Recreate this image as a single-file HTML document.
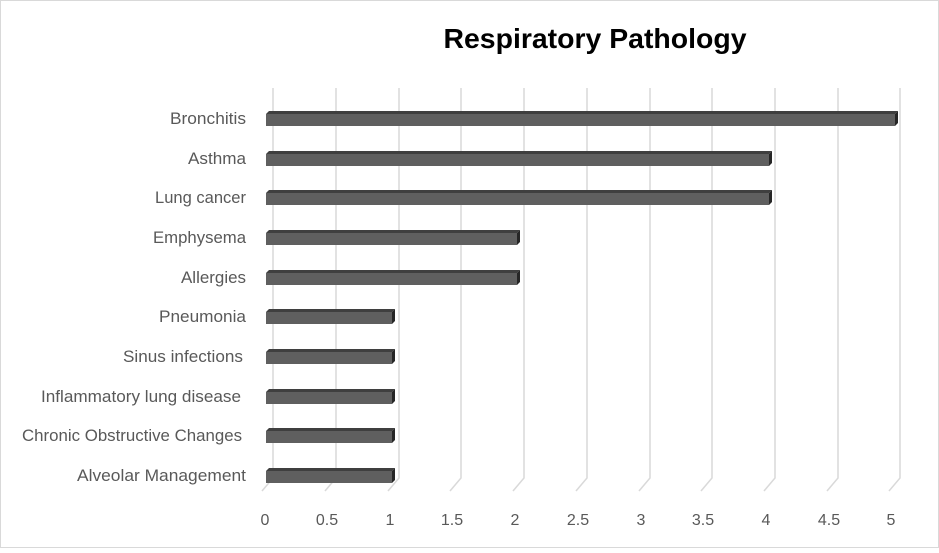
<!DOCTYPE html>
<html><head><meta charset="utf-8"><style>
body{margin:0;background:#fff}
svg text{font-family:"Liberation Sans",sans-serif}
</style></head><body>
<svg width="939" height="548" viewBox="0 0 939 548" xmlns="http://www.w3.org/2000/svg">
<rect x="0.5" y="0.5" width="938" height="547" fill="#fff" stroke="#d9d9d9"/>
<text x="595" y="48" text-anchor="middle" font-size="28" font-weight="bold" fill="#000" textLength="303" lengthAdjust="spacingAndGlyphs">Respiratory Pathology</text>
<g stroke="#d9d9d9" stroke-width="1.5" fill="none">
<path d="M273,88V478L262,491"/><path d="M336,88V478L325,491"/><path d="M399,88V478L388,491"/>
<path d="M461,88V478L450,491"/><path d="M524,88V478L513,491"/><path d="M587,88V478L576,491"/>
<path d="M650,88V478L639,491"/><path d="M712,88V478L701,491"/><path d="M775,88V478L764,491"/>
<path d="M838,88V478L827,491"/><path d="M900,88V478L889,491"/>
</g>
<g font-size="16" fill="#595959" text-anchor="middle">
<text x="265" y="525">0</text><text x="327" y="525">0.5</text><text x="390" y="525">1</text>
<text x="452" y="525">1.5</text><text x="515" y="525">2</text><text x="578" y="525">2.5</text>
<text x="641" y="525">3</text><text x="703" y="525">3.5</text><text x="766" y="525">4</text>
<text x="829" y="525">4.5</text><text x="891" y="525">5</text>
</g>
<g font-size="16.5" fill="#595959" lengthAdjust="spacingAndGlyphs">
<text x="170" y="124" textLength="76" lengthAdjust="spacingAndGlyphs">Bronchitis</text>
<text x="188" y="164" textLength="58" lengthAdjust="spacingAndGlyphs">Asthma</text>
<text x="155" y="203" textLength="91" lengthAdjust="spacingAndGlyphs">Lung cancer</text>
<text x="153" y="243" textLength="93" lengthAdjust="spacingAndGlyphs">Emphysema</text>
<text x="181" y="283" textLength="65" lengthAdjust="spacingAndGlyphs">Allergies</text>
<text x="159" y="322" textLength="87" lengthAdjust="spacingAndGlyphs">Pneumonia</text>
<text x="123" y="362" textLength="120" lengthAdjust="spacingAndGlyphs">Sinus infections</text>
<text x="41" y="402" textLength="200" lengthAdjust="spacingAndGlyphs">Inflammatory lung disease</text>
<text x="22" y="441" textLength="220" lengthAdjust="spacingAndGlyphs">Chronic Obstructive Changes</text>
<text x="77" y="481" textLength="169" lengthAdjust="spacingAndGlyphs">Alveolar Management</text>
</g>
<g>
<g transform="translate(0,111)"><path d="M266,3L269,0H898L895,3Z" fill="#3f3f3f"/><path d="M895,3L898,0V12L895,15Z" fill="#262626"/><rect x="266" y="3" width="629" height="12" fill="#5f5f5f"/></g>
<g transform="translate(0,151)"><path d="M266,3L269,0H772L769,3Z" fill="#3f3f3f"/><path d="M769,3L772,0V12L769,15Z" fill="#262626"/><rect x="266" y="3" width="503" height="12" fill="#5f5f5f"/></g>
<g transform="translate(0,190)"><path d="M266,3L269,0H772L769,3Z" fill="#3f3f3f"/><path d="M769,3L772,0V12L769,15Z" fill="#262626"/><rect x="266" y="3" width="503" height="12" fill="#5f5f5f"/></g>
<g transform="translate(0,230)"><path d="M266,3L269,0H520L517,3Z" fill="#3f3f3f"/><path d="M517,3L520,0V12L517,15Z" fill="#262626"/><rect x="266" y="3" width="251" height="12" fill="#5f5f5f"/></g>
<g transform="translate(0,270)"><path d="M266,3L269,0H520L517,3Z" fill="#3f3f3f"/><path d="M517,3L520,0V12L517,15Z" fill="#262626"/><rect x="266" y="3" width="251" height="12" fill="#5f5f5f"/></g>
<g transform="translate(0,309)"><path d="M266,3L269,0H395L392,3Z" fill="#3f3f3f"/><path d="M392,3L395,0V12L392,15Z" fill="#262626"/><rect x="266" y="3" width="126" height="12" fill="#5f5f5f"/></g>
<g transform="translate(0,349)"><path d="M266,3L269,0H395L392,3Z" fill="#3f3f3f"/><path d="M392,3L395,0V12L392,15Z" fill="#262626"/><rect x="266" y="3" width="126" height="12" fill="#5f5f5f"/></g>
<g transform="translate(0,389)"><path d="M266,3L269,0H395L392,3Z" fill="#3f3f3f"/><path d="M392,3L395,0V12L392,15Z" fill="#262626"/><rect x="266" y="3" width="126" height="12" fill="#5f5f5f"/></g>
<g transform="translate(0,428)"><path d="M266,3L269,0H395L392,3Z" fill="#3f3f3f"/><path d="M392,3L395,0V12L392,15Z" fill="#262626"/><rect x="266" y="3" width="126" height="12" fill="#5f5f5f"/></g>
<g transform="translate(0,468)"><path d="M266,3L269,0H395L392,3Z" fill="#3f3f3f"/><path d="M392,3L395,0V12L392,15Z" fill="#262626"/><rect x="266" y="3" width="126" height="12" fill="#5f5f5f"/></g>
</g>
</svg>
</body></html>
